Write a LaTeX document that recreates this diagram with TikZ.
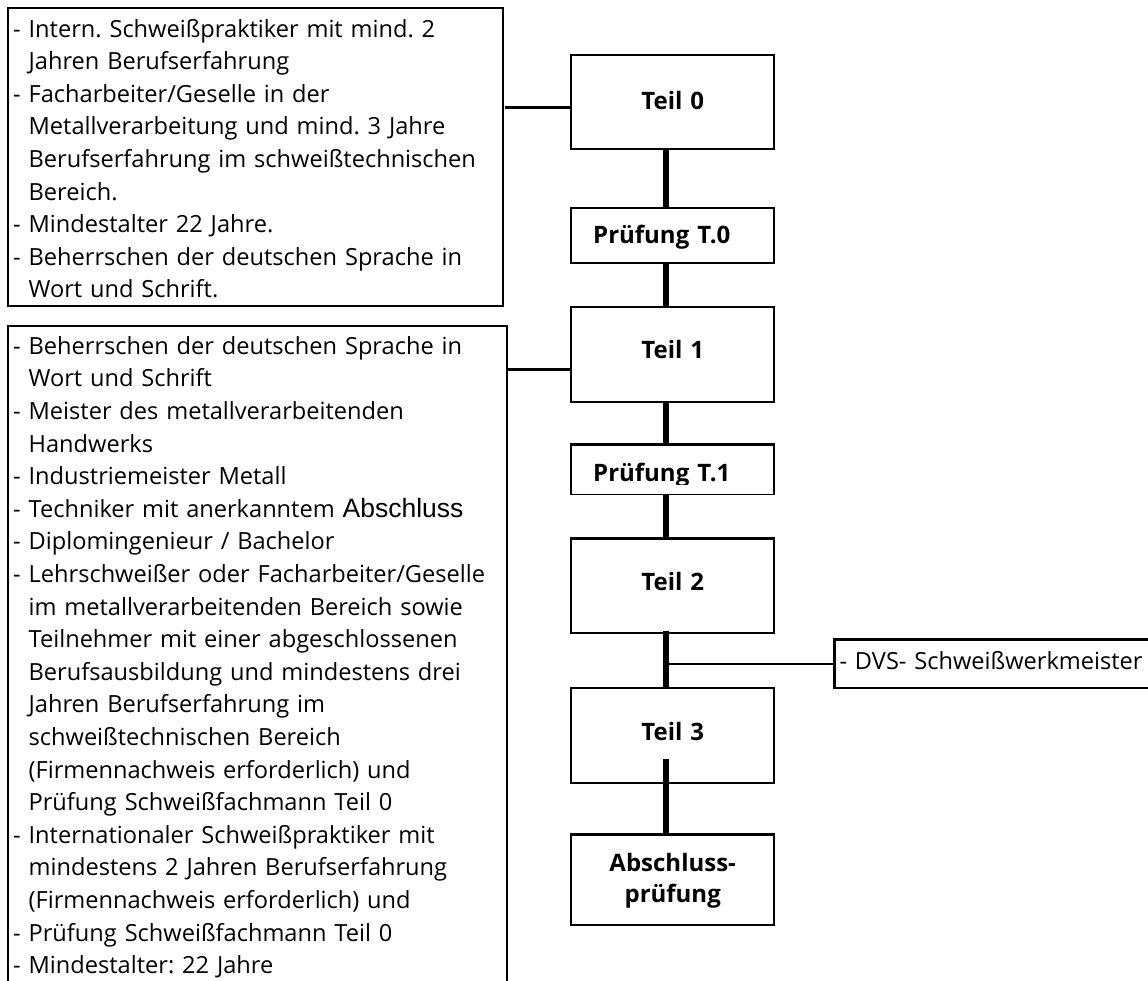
\documentclass[tikz,border=0pt]{standalone}
\usepackage{fontspec}
\setmainfont{Open Sans}[BoldFont={Open Sans Bold}]
\newfontfamily\arialfont{Liberation Sans}
\newcommand\dsh{-\ }
\newcommand\ctn{\hphantom{-}\ }
\frenchspacing
\begin{document}
\begin{tikzpicture}[x=1pt,y=-1pt,
  reqbox/.style={draw, line width=2.4pt, anchor=north west, inner xsep=5pt, inner ysep=0pt,
    align=left, font=\fontsize{23.6pt}{32.6pt}\selectfont},
  stage/.style={draw, line width=2.4pt, anchor=north west, inner xsep=0pt, inner ysep=0pt,
    text width=203pt, align=center, font=\bfseries\fontsize{24pt}{31.7pt}\selectfont},
  exam/.style={stage, text width=159pt, inner xsep=22pt, align=left},
  spine/.style={line width=5.5pt},
  link/.style={line width=2.6pt}]
\useasboundingbox (0,0) rectangle (1148,981);
\clip (0,0) rectangle (1148,981);

\node[reqbox, text width=485pt, text height=29pt, text depth=269pt] (req0) at (7,7) {%
\dsh Intern. Schweißpraktiker mit mind. 2\\
\ctn Jahren Berufserfahrung\\
\dsh Facharbeiter/Geselle in der\\
\ctn Metallverarbeitung und mind. 3 Jahre\\
\ctn Berufserfahrung im schweißtechnischen\\
\ctn Bereich.\\
\dsh Mindestalter 22 Jahre.\\
\dsh Beherrschen der deutschen Sprache in\\
\ctn Wort und Schrift.};

\node[reqbox, text width=489pt, text height=28pt, text depth=700pt] (req1) at (7,325) {%
\dsh Beherrschen der deutschen Sprache in\\
\ctn Wort und Schrift\\
\dsh Meister des metallverarbeitenden\\
\ctn Handwerks\\
\dsh Industriemeister Metall\\
\dsh Techniker mit anerkanntem {\arialfont\fontsize{26.5pt}{32.6pt}\selectfont Abschluss}\\
\dsh Diplomingenieur / Bachelor\\
\dsh Lehrschweißer oder Facharbeiter/Geselle\\
\ctn im metallverarbeitenden Bereich sowie\\
\ctn Teilnehmer mit einer abgeschlossenen\\
\ctn Berufsausbildung und mindestens drei\\
\ctn Jahren Berufserfahrung im\\
\ctn schweißtechnischen Bereich\\
\ctn (Firmennachweis erforderlich) und\\
\ctn Prüfung Schweißfachmann Teil 0\\
\dsh Internationaler Schweißpraktiker mit\\
\ctn mindestens 2 Jahren Berufserfahrung\\
\ctn (Firmennachweis erforderlich) und\\
\dsh Prüfung Schweißfachmann Teil 0\\
\dsh Mindestalter: 22 Jahre};

\node[stage, text height=54.3pt, text depth=39.7pt] (teil0) at (570,54) {Teil 0};
\node[exam, text height=36pt, text depth=19pt] (pt0) at (570,206.7) {Prüfung T.0};
\node[stage, text height=51.6pt, text depth=43.7pt] (teil1) at (570,305.7) {Teil 1};
\node[exam, text height=36.7pt, text depth=13pt] (pt1) at (570,443.3) {Prüfung T.1};
\fill[white] ([xshift=2pt,yshift=10pt]pt1.south west) rectangle ([xshift=-2pt,yshift=1.5pt]pt1.south east);
\node[stage, text height=52pt, text depth=42.4pt] (teil2) at (570,537.3) {Teil 2};
\node[stage, text height=52.6pt, text depth=42.4pt] (teil3) at (570,686.7) {Teil 3};
\node[stage, text height=36.7pt, text depth=54pt] (absch) at (570,833.3) {Abschluss-\\prüfung};
\node[reqbox, text width=330pt, text height=30pt, text depth=18.7pt] (dvs) at (833.3,638.3) {- DVS- Schweißwerkmeister};

\coordinate (sp) at (666,0);
\draw[spine] (teil0.south -| sp) -- (pt0.north -| sp);
\draw[spine] (pt0.south -| sp) -- (teil1.north -| sp);
\draw[spine] (teil1.south -| sp) -- (pt1.north -| sp);
\draw[spine] (pt1.south -| sp) -- (teil2.north -| sp);
\draw[spine] ([yshift=3.5pt]teil2.south -| sp) -- (teil3.north -| sp);
\draw[spine] ([yshift=25pt]teil3.south -| sp) -- (absch.north -| sp);
\draw[link] (sp |- dvs.west) -- (dvs.west);

\coordinate (c0) at (505,107.7);
\draw[link] (c0) -- (c0 -| teil0.west);
\coordinate (c1) at (req1.east |- 0,369.3);
\draw[link] (c1) -- (c1 -| teil1.west);
\end{tikzpicture}
\end{document}
